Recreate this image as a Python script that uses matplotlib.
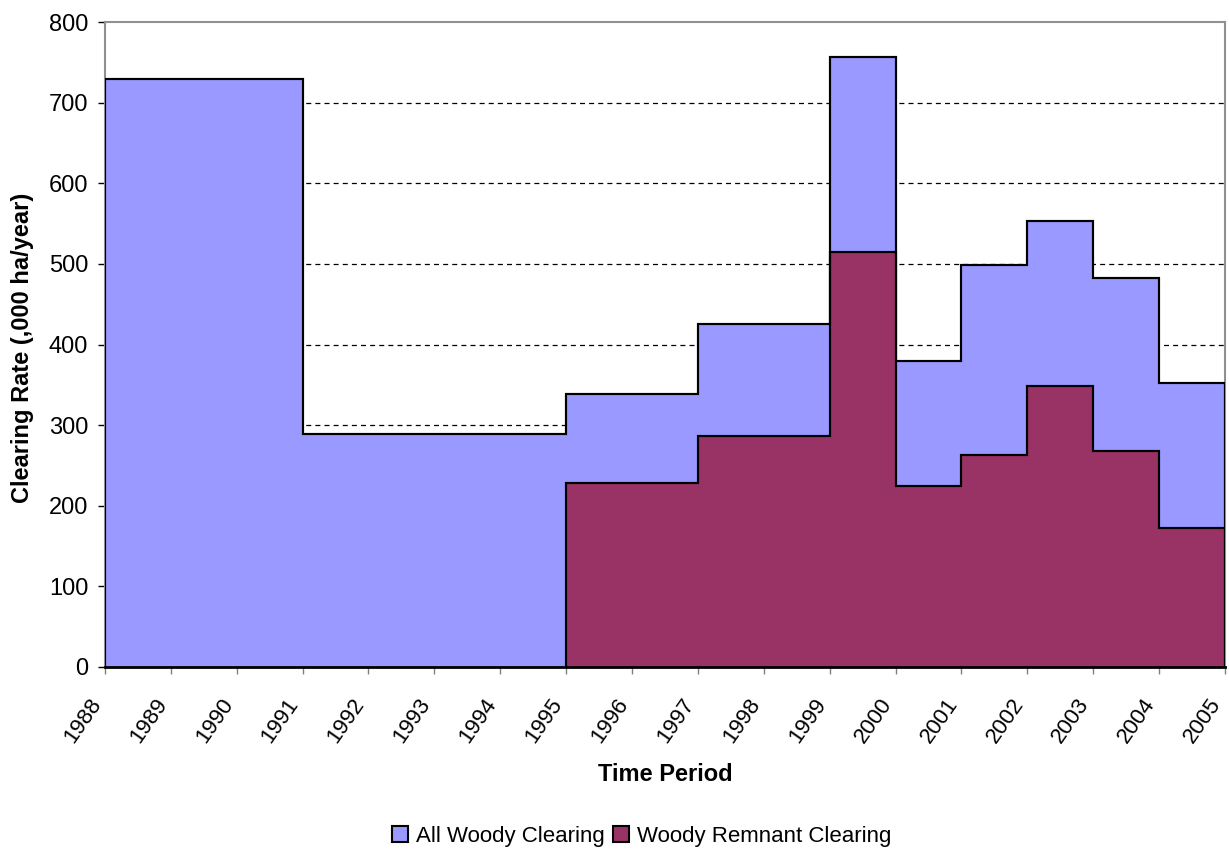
import matplotlib
matplotlib.use("Agg")
import matplotlib.pyplot as plt
from matplotlib.patches import Patch
from matplotlib.transforms import ScaledTranslation

plt.rcParams['font.family'] = ['Liberation Sans', 'DejaVu Sans']

# Data
all_edges = [1988, 1991, 1995, 1997, 1999, 2000, 2001, 2002, 2003, 2004, 2005]
all_woody = [730, 289, 339, 425, 757, 380, 499, 553, 482, 352]
rem_edges = [1995, 1997, 1999, 2000, 2001, 2002, 2003, 2004, 2005]
remnant = [228, 287, 515, 225, 263, 348, 268, 173]
years = list(range(1988, 2006))
yticks = [0, 100, 200, 300, 400, 500, 600, 700, 800]

fig = plt.figure(figsize=(12.29, 8.5), dpi=100)
ax = fig.add_axes([0.0854, 0.2153, 0.9113, 0.7587])

blue = '#9999FF'
maroon = '#993366'

ax.stairs(all_woody, all_edges, fill=True, baseline=0, facecolor=blue,
          edgecolor='black', linewidth=1.5, zorder=2)
ax.stairs(all_woody, all_edges, fill=False, baseline=0,
          color='black', linewidth=1.5, zorder=4)
ax.stairs(remnant, rem_edges, fill=True, baseline=0, facecolor=maroon,
          edgecolor='black', linewidth=1.5, zorder=3)
ax.stairs(remnant, rem_edges, fill=False, baseline=0,
          color='black', linewidth=1.5, zorder=4)

ax.set_xlim(1988, 2005)
ax.set_ylim(0, 800)
ax.set_yticks(yticks)
ax.set_xticks(years)
ax.tick_params(axis='y', labelsize=17, length=5, width=1, color='black', pad=7)
ax.tick_params(axis='x', length=5, width=1, color='#808080', pad=19)
ax.set_xticklabels([str(y) for y in years], rotation=55, ha='right', va='center',
                   rotation_mode='anchor', fontsize=16)
shift = ScaledTranslation(-8 / 100, 0, fig.dpi_scale_trans)
for lab in ax.get_xticklabels():
    lab.set_transform(lab.get_transform() + shift)

for y in yticks[1:-1]:
    ax.axhline(y, color='black', linestyle=(0, (4, 3.3)), linewidth=0.9, zorder=1)

for s in ['top', 'right', 'left']:
    ax.spines[s].set_color('#909090')
    ax.spines[s].set_linewidth(1.5)
ax.spines['bottom'].set_color('black')
ax.spines['bottom'].set_linewidth(2)
ax.spines['bottom'].set_zorder(5)

ax.set_xlabel('Time Period', fontsize=17, fontweight='bold', va='center')
ax.xaxis.set_label_coords(0.5, -0.167)
ax.set_ylabel('Clearing Rate (,000 ha/year)', fontsize=17, fontweight='bold', va='center')
ax.yaxis.set_label_coords(-0.0732, 0.495)

handles = [Patch(facecolor=blue, edgecolor='black', linewidth=1.5, label='All Woody Clearing'),
           Patch(facecolor=maroon, edgecolor='black', linewidth=1.5, label='Woody Remnant Clearing')]
fig.legend(handles=handles, loc='center', bbox_to_anchor=(0.522, 0.016), ncol=2,
           frameon=False, fontsize=16, handlelength=0.7, handleheight=0.7,
           handletextpad=0.35, columnspacing=0.4)

fig.savefig('out.png', dpi=100)
